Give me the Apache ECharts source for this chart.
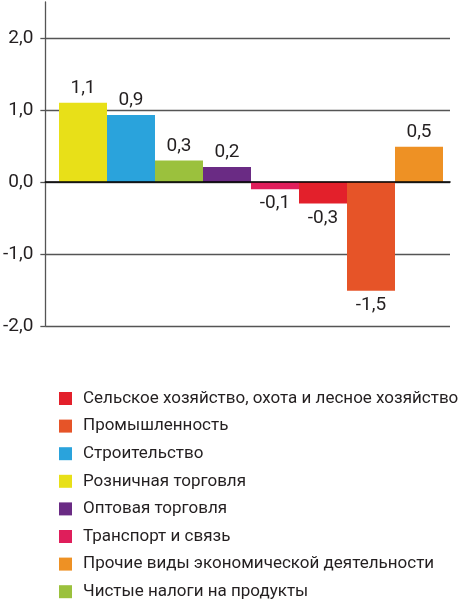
<!DOCTYPE html>
<html>
<head>
<meta charset="utf-8">
<script src="https://cdn.jsdelivr.net/npm/echarts@6/dist/echarts.min.js"></script>
<style>html,body{margin:0;padding:0;background:#fff;}#c{width:459px;height:600px;}</style>
</head>
<body>
<div id="c"></div>
<script>
const categories = ['Розничная торговля','Строительство','Чистые налоги на продукты','Оптовая торговля','Транспорт и связь','Сельское хозяйство, охота и лесное хозяйство','Промышленность','Прочие виды экономической деятельности'];
const values = [1.1, 0.93, 0.3, 0.21, -0.1, -0.3, -1.51, 0.49];
const colors = ['#e8e018','#2aa3dc','#9bc13d','#6a2b84','#df1e5b','#e3202b','#e65428','#ee9124'];
const legendOrder = ['Сельское хозяйство, охота и лесное хозяйство','Промышленность','Строительство','Розничная торговля','Оптовая торговля','Транспорт и связь','Прочие виды экономической деятельности','Чистые налоги на продукты'];
const yTicks = [-2, -1, 0, 1, 2];

const FONT = 'Roboto';
const txt = '#231f20';
const series = categories.map((name, i) => ({
  name: name,
  type: 'bar',
  xAxisIndex: 1,
  yAxisIndex: 1,
  stack: 'all',
  barCategoryGap: '0%',
  itemStyle: { color: colors[i] },
  data: categories.map((c, j) => j === i ? values[i] : '-'),
  label: {
    show: true,
    position: values[i] >= 0 ? 'top' : 'bottom',
    distance: 5,
    fontFamily: FONT, fontSize: 19, color: txt,
    formatter: p => p.value.toFixed(1).replace('.', ',')
  },
  emphasis: { disabled: true }
}));

const chart = echarts.init(document.getElementById('c'));
chart.setOption({
  animation: false,
  grid: [
    { left: 45, right: 9, top: 2, height: 324 },
    { left: 59, right: 16, top: 2, height: 324 }
  ],
  xAxis: [
    { gridIndex: 0, type: 'category', data: [''], z: 5,
      axisLine: { lineStyle: { color: '#000', width: 1.6 } },
      axisTick: { show: false }, axisLabel: { show: false } },
    { gridIndex: 1, type: 'category', data: categories, show: false }
  ],
  yAxis: [
    { gridIndex: 0, type: 'value', min: yTicks[0], max: 2.5, interval: 1,
      axisLine: { show: true, lineStyle: { color: '#555', width: 1.3 } },
      axisTick: { show: true, length: 5, lineStyle: { color: '#555', width: 1.3 } },
      splitLine: { show: true, showMaxLine: false, lineStyle: { color: '#555', width: 1.3 } },
      axisLabel: { showMaxLabel: false, margin: 12, fontFamily: FONT, fontSize: 19, color: txt,
        formatter: v => v.toFixed(1).replace('.', ',') } },
    { gridIndex: 1, type: 'value', min: yTicks[0], max: 2.5, show: false, splitLine: { show: false } }
  ],
  legend: {
    orient: 'vertical', left: 59, top: 390, padding: 0, height: 230,
    data: legendOrder,
    icon: 'rect', itemWidth: 13, itemHeight: 13, itemGap: 10.6,
    textStyle: { fontFamily: FONT, fontSize: 17, color: txt, padding: [0, 0, 0, 6] },
    selectedMode: false
  },
  series: series
});
</script>
</body>
</html>
